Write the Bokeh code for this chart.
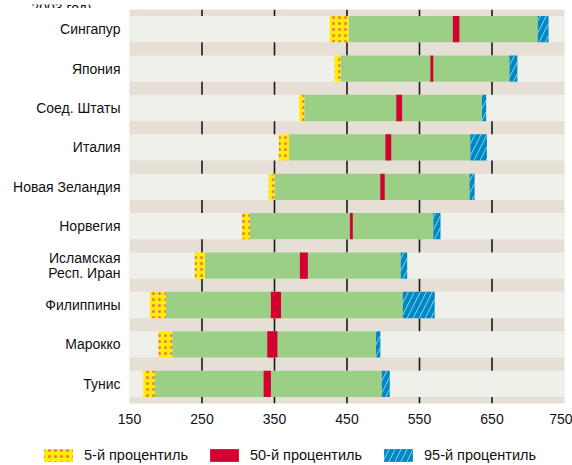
from bokeh.plotting import figure
from bokeh.layouts import column
from bokeh.models import Range1d, FixedTicker, Legend, LegendItem, Label
from bokeh.embed import file_html
from bokeh.resources import INLINE

countries = ["Сингапур", "Япония", "Соед. Штаты", "Италия", "Новая Зеландия",
             "Норвегия", "Исламская Респ. Иран", "Филиппины", "Марокко", "Тунис"]
p5_lo = [426, 433, 384, 356, 342, 305, 240, 178, 190, 169]
p5_hi = [452, 441, 391, 370, 350, 316, 254, 200, 209, 185]
p50_lo = [596, 565, 518, 503, 496, 454, 385, 345, 340, 335]
p50_hi = [605, 569, 526, 511, 502, 458, 396, 359, 354, 345]
p95_lo = [713, 674, 636, 620, 619, 569, 524, 527, 490, 498]
p95_hi = [728, 685, 642, 643, 626, 579, 533, 571, 496, 509]
x_ticks = [150, 250, 350, 450, 550, 650, 750]
grid_vals = [250, 350, 450, 550, 650]
legend_labels = ["5-й процентиль", "50-й процентиль", "95-й процентиль"]
title_tail = "2003 год)"

FONT = "Liberation Sans"
n = len(countries)
ys = [i + 0.5 for i in range(n)]


def no_align(fig):
    try:
        fig.frame_align = False
        return True
    except Exception:
        return False


# ---- top strip with the tail of the cut-off title ----
t = figure(width=572, height=8, output_backend="svg", toolbar_location=None,
           x_range=Range1d(0, 572), y_range=Range1d(0, 8),
           x_axis_location=None, y_axis_location=None,
           min_border=0, min_border_left=0, min_border_right=0,
           min_border_top=0, min_border_bottom=0)
t_free = no_align(t)
t.outline_line_color = None
t.grid.visible = False
t.background_fill_color = "white"
t.add_layout(Label(x=91 if t_free else -38 * 572 / 435, y=-3.8, text=title_tail,
                   text_align="right", text_baseline="bottom",
                   text_font=FONT, text_font_size="14px", text_color="#111"))

# ---- main chart ----
p = figure(width=572, height=421, output_backend="svg", toolbar_location=None,
           x_range=Range1d(150, 750), y_range=Range1d(n, 0),
           min_border_left=129, min_border_right=8, min_border_top=1,
           min_border_bottom=26)
p.outline_line_color = None
p.background_fill_color = "#E6DFD5"
p.border_fill_color = "white"
p.xgrid.visible = False
p.ygrid.visible = False

p.segment(x0=grid_vals, x1=grid_vals, y0=[0] * len(grid_vals),
          y1=[n] * len(grid_vals), line_color="#1a1a1a", line_width=1.6)
p.hbar(y=ys, left=[150] * n, right=[750] * n, height=2 / 3,
       fill_color="#F0F0EB", line_color=None)

STY5 = dict(fill_color="#FFEE00", line_color=None, hatch_pattern="dot",
            hatch_color="#F07070", hatch_scale=6, hatch_weight=2.2)
STY50 = dict(fill_color="#D40032", line_color=None)
STY95 = dict(fill_color="#0088C2", line_color=None, hatch_pattern="/",
             hatch_color="#8CD0F0", hatch_scale=12, hatch_weight=1)

p.hbar(y=ys, left=p5_hi, right=p95_lo, height=2 / 3, fill_color="#9CCF86", line_color=None)
p.hbar(y=ys, left=p5_lo, right=p5_hi, height=2 / 3, **STY5)
p.hbar(y=ys, left=p50_lo, right=p50_hi, height=2 / 3, **STY50)
p.hbar(y=ys, left=p95_lo, right=p95_hi, height=2 / 3, **STY95)

p.xaxis.ticker = FixedTicker(ticks=x_ticks)
p.xaxis.axis_line_color = None
p.xaxis.major_tick_line_color = None
p.xaxis.minor_tick_line_color = None
p.xaxis.major_tick_out = 0
p.xaxis.major_tick_in = 0
p.xaxis.minor_tick_out = 0
p.xaxis.major_label_standoff = 10
p.xaxis.major_label_text_font = FONT
p.xaxis.major_label_text_font_size = "14px"
p.xaxis.major_label_text_color = "#111"

tick_pos, tick_lab = [], {}
for y, c in zip(ys, countries):
    if c == "Исламская Респ. Иран":
        tick_pos += [y - 0.2, y + 0.2]
        tick_lab[y - 0.2] = "Исламская"
        tick_lab[y + 0.2] = "Респ. Иран"
    else:
        tick_pos.append(y)
        tick_lab[y] = c
p.yaxis.ticker = FixedTicker(ticks=tick_pos)
p.yaxis.major_label_overrides = tick_lab
p.yaxis.axis_line_color = None
p.yaxis.major_tick_line_color = None
p.yaxis.minor_tick_line_color = None
p.yaxis.major_tick_out = 0
p.yaxis.major_tick_in = 0
p.yaxis.minor_tick_out = 0
p.yaxis.major_label_standoff = 9
p.yaxis.major_label_text_font = FONT
p.yaxis.major_label_text_font_size = "14px"
p.yaxis.major_label_text_color = "#111"

# ---- legend strip ----
q = figure(width=572, height=36, output_backend="svg", toolbar_location=None,
           x_range=Range1d(0, 1), y_range=Range1d(0, 1),
           x_axis_location=None, y_axis_location=None,
           min_border=0, min_border_left=0, min_border_right=0,
           min_border_top=0, min_border_bottom=0)
q_free = no_align(q)
q.outline_line_color = None
q.grid.visible = False
e = dict(y=[10], left=[10], right=[11], height=1)
l5 = q.hbar(**e, **STY5)
l50 = q.hbar(**e, **STY50)
l95 = q.hbar(**e, **STY95)
legend = Legend(items=[LegendItem(label=legend_labels[0], renderers=[l5]),
                       LegendItem(label=legend_labels[1], renderers=[l50]),
                       LegendItem(label=legend_labels[2], renderers=[l95])],
                orientation="horizontal", location=(40, 2) if q_free else (-89, 2),
                glyph_width=36, glyph_height=16, label_standoff=8, spacing=18,
                padding=0, margin=0, border_line_color=None,
                background_fill_alpha=0, label_text_font=FONT,
                label_text_font_size="14.5px", label_text_color="#111",
                label_height=16)
q.add_layout(legend)

open("out.html", "w").write(file_html(column(t, p, q), INLINE))
